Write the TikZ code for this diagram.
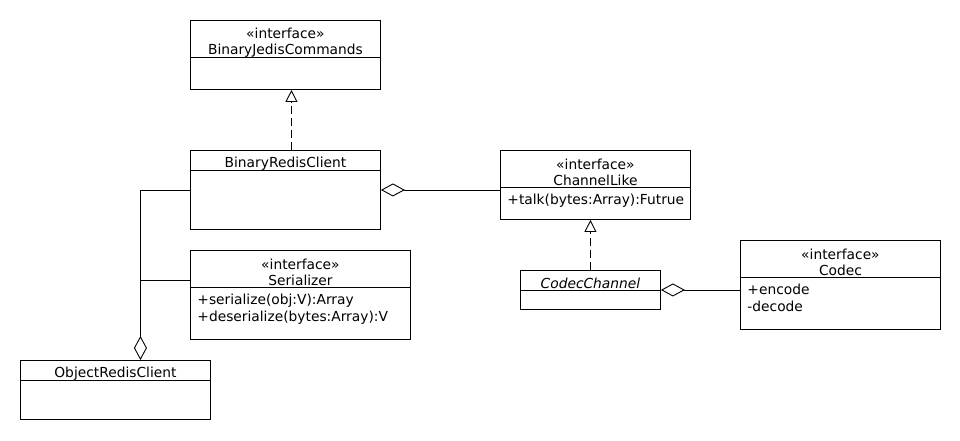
\documentclass[tikz,border=0pt]{standalone}
\usepackage{fontspec}
\setmainfont{DejaVu Sans}
\usetikzlibrary{arrows.meta,positioning}

\begin{document}
\begin{tikzpicture}[x=1pt, y=-1pt,
		line width=0.9pt,
		font=\fontsize{13.8pt}{16.5pt}\selectfont,
		classbox/.style={draw, rectangle, anchor=north west, inner sep=0pt},
		headtext/.style={align=center, inner sep=0pt},
		bodytext/.style={align=left, anchor=north west, inner xsep=7pt, inner ysep=7pt},
		realize/.style={dash pattern=on 8pt off 4pt, -{Triangle[open, length=12pt, width=12pt]}},
		aggr/.style={{Diamond[open, length=24pt, width=13pt]}-}
		]
		\useasboundingbox (0,0) rectangle (960,440);
		% classes
		\node[classbox, minimum width=190pt, minimum height=69pt] (bjc) at (190,20) {};
		\draw ([yshift=-37pt]bjc.north west) -- ([yshift=-37pt]bjc.north east);
		\node[headtext] at ([yshift=-22.5pt]bjc.north) {«interface»\\BinaryJedisCommands};

		\node[classbox, minimum width=190pt, minimum height=79pt] (brc) at (190,150) {};
		\draw ([yshift=-20pt]brc.north west) -- ([yshift=-20pt]brc.north east);
		\node[headtext] at ([yshift=-13.5pt]brc.north) {BinaryRedisClient};

		\node[classbox, minimum width=190pt, minimum height=69pt] (cl) at (500,150) {};
		\draw ([yshift=-37pt]cl.north west) -- ([yshift=-37pt]cl.north east);
		\node[headtext] at ([yshift=-22.5pt]cl.north) {«interface»\\ChannelLike};
		\node[bodytext] at ([yshift=-37pt]cl.north west) {+talk(bytes:Array):Futrue};

		\node[classbox, minimum width=220pt, minimum height=89pt] (ser) at (190,250) {};
		\draw ([yshift=-37pt]ser.north west) -- ([yshift=-37pt]ser.north east);
		\node[headtext] at ([yshift=-22.5pt]ser.north) {«interface»\\Serializer};
		\node[bodytext] at ([yshift=-37pt]ser.north west) {+serialize(obj:V):Array\\+deserialize(bytes:Array):V};

		\node[classbox, minimum width=140pt, minimum height=39pt] (cc) at (520,270) {};
		\draw ([yshift=-20pt]cc.north west) -- ([yshift=-20pt]cc.north east);
		\node[headtext] at ([yshift=-13.5pt]cc.north) {\itshape CodecChannel};

		\node[classbox, minimum width=200pt, minimum height=89pt] (codec) at (740,240) {};
		\draw ([yshift=-37pt]codec.north west) -- ([yshift=-37pt]codec.north east);
		\node[headtext] at ([yshift=-22.5pt]codec.north) {«interface»\\Codec};
		\node[bodytext] at ([yshift=-37pt]codec.north west) {+encode\\-decode};

		\node[classbox, minimum width=190pt, minimum height=59pt] (orc) at (20,360) {};
		\draw ([yshift=-20pt]orc.north west) -- ([yshift=-20pt]orc.north east);
		\node[headtext] at ([yshift=-13.5pt]orc.north) {ObjectRedisClient};

		% relations
		\draw[realize] ([xshift=6pt]brc.north) -- ([xshift=6pt]bjc.south);
		\draw[realize] (cc.north) -- (cc.north |- cl.south);
		\draw[aggr] (brc.east) -- (brc.east -| cl.west);
		\draw[aggr] (cc.east) -- (cc.east -| codec.west);
		\coordinate (jn) at ([xshift=25pt]orc.north |- ser.north);
		\draw[aggr] ([xshift=25pt]orc.north) -- (jn |- brc.west) -- (brc.west);
		\draw ([yshift=-30pt]jn) -- ([yshift=-30pt]jn -| ser.west);
	\end{tikzpicture}
\end{document}
